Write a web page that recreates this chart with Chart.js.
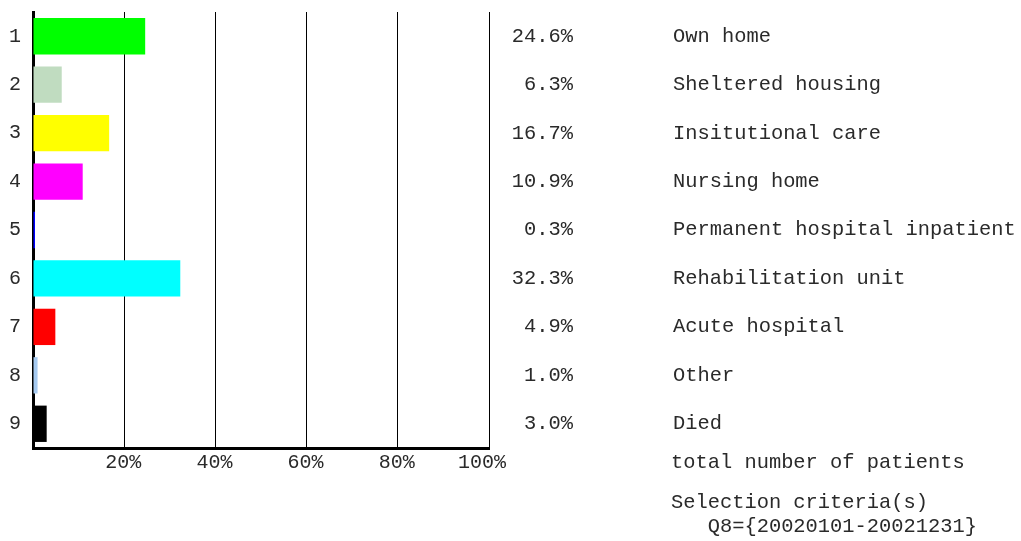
<!DOCTYPE html>
<html>
<head>
<meta charset="utf-8">
<script src="https://cdn.jsdelivr.net/npm/chart.js@4/dist/chart.umd.min.js"></script>
<style>
html,body{margin:0;padding:0;background:#fff;}
#wrap{width:1021px;height:541px;position:relative;}
</style>
</head>
<body>
<div id="wrap"><canvas id="c"></canvas></div>
<script>
const categories = ['1','2','3','4','5','6','7','8','9'];
const labels = ['Own home','Sheltered housing','Insitutional care','Nursing home','Permanent hospital inpatient','Rehabilitation unit','Acute hospital','Other','Died'];
const values = [24.6, 6.3, 16.7, 10.9, 0.3, 32.3, 4.9, 1.0, 3.0];
const colors = ['#00ff00','#c0dcc0','#ffff00','#ff00ff','#0000ff','#00ffff','#ff0000','#a6caf0','#000000'];
const xTicks = [0, 20, 40, 60, 80, 100];
const footerLines = ['total number of patients', 'Selection criteria(s)', '   Q8={20020101-20021231}'];

const FONT = '"Liberation Mono", "Courier New", monospace';
const TEXT = '#2a2a2a';

const textPlugin = {
  id: 'sideText',
  afterDraw(chart) {
    const ctx = chart.ctx;
    const ys = chart.scales.y;
    ctx.save();
    ctx.font = '20.4px ' + FONT;
    ctx.fillStyle = TEXT;
    ctx.textBaseline = 'middle';
    values.forEach((v, i) => {
      const y = ys.getPixelForValue(i);
      ctx.textAlign = 'right';
      ctx.fillText(v.toFixed(1) + '%', 573, y);
      ctx.textAlign = 'left';
      ctx.fillText(labels[i], 673, y);
    });
    ctx.textAlign = 'left';
    ctx.fillText(footerLines[0], 671, 463);
    ctx.fillText(footerLines[1], 671, 503);
    ctx.fillText(footerLines[2], 671, 527);
    ctx.restore();
  }
};

new Chart(document.getElementById('c'), {
  type: 'bar',
  data: {
    labels: categories,
    datasets: [{
      data: values,
      backgroundColor: colors,
      borderWidth: 0,
      barPercentage: 0.75,
      categoryPercentage: 1.0,
      minBarLength: 2
    }]
  },
  options: {
    indexAxis: 'y',
    responsive: true,
    maintainAspectRatio: false,
    animation: false,
    layout: { padding: { left: 0, right: 532, top: 12, bottom: 0 } },
    plugins: { legend: { display: false }, tooltip: { enabled: false } },
    scales: {
      x: {
        min: 0, max: 100,
        afterBuildTicks(scale) { scale.ticks = xTicks.map(v => ({ value: v })); },
        afterFit(scale) { scale.height = 93; scale.paddingLeft = 0; scale.paddingRight = 0; },
        grid: { display: true, color: '#000', lineWidth: 1, drawTicks: false },
        border: { display: true, color: '#000', width: 3 },
        ticks: {
          padding: 3,
          align: 'end',
          labelOffset: 17,
          color: TEXT,
          font: { family: FONT, size: 20 },
          maxRotation: 0,
          callback: (v) => v === 0 ? '' : v + '%'
        }
      },
      y: {
        afterFit(scale) { scale.width = 33; scale.paddingTop = 0; scale.paddingBottom = 0; },
        grid: { display: false, drawTicks: false },
        border: { display: true, color: '#000', width: 3 },
        ticks: {
          padding: 12,
          color: TEXT,
          font: { family: FONT, size: 20 }
        }
      }
    }
  },
  plugins: [textPlugin]
});
</script>
</body>
</html>
